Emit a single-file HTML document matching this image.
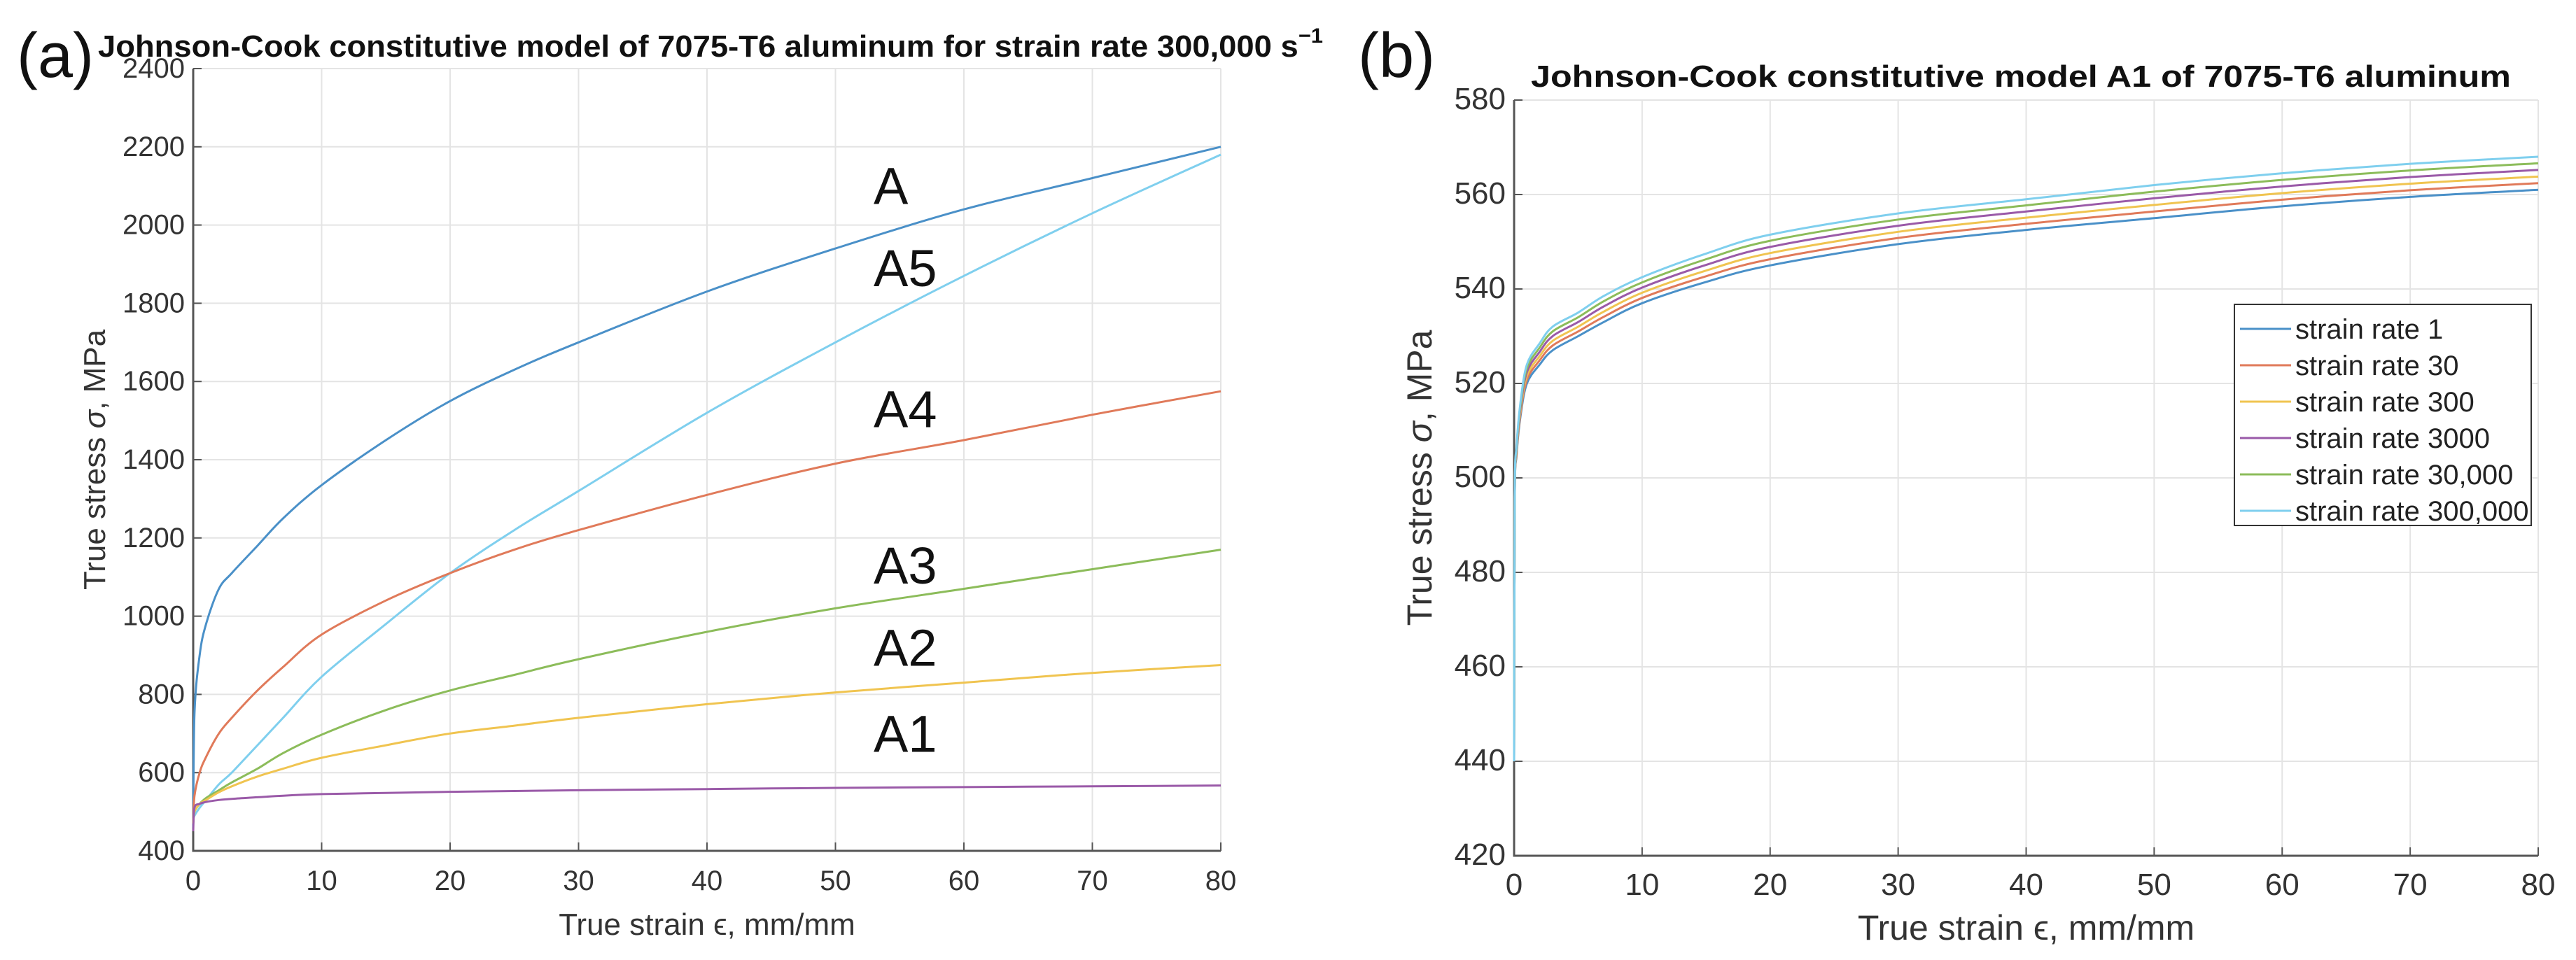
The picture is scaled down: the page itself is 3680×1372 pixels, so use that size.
<!DOCTYPE html>
<html><head><meta charset="utf-8"><style>
html,body{margin:0;padding:0;background:#fff;}
svg{display:block;font-family:"Liberation Sans",sans-serif;}
</style></head><body>
<svg id="fig" width="3680" height="1372" viewBox="0 0 3680 1372">
<text x="24" y="110" font-size="90" fill="#111">(a)</text>
<text x="140" y="81" font-size="44" font-weight="bold" fill="#111" textLength="1750" lengthAdjust="spacingAndGlyphs">Johnson-Cook constitutive model of 7075-T6 aluminum for strain rate 300,000 s<tspan font-size="30" dy="-20">−1</tspan></text>
<text x="1940" y="110" font-size="90" fill="#111">(b)</text>
<text x="2887" y="124" font-size="44" font-weight="bold" fill="#111" text-anchor="middle" textLength="1400" lengthAdjust="spacingAndGlyphs">Johnson-Cook constitutive model A1 of 7075-T6 aluminum</text>
<g id="left"></g>
<g id="right"></g>
</svg>
<script>
// ---- left chart data ----
const leftX = [0,0.1,0.5,1,2,3,5,7,10,15,20,25,30,40,50,60,70,80];
const seriesA  = [460,750,900,980,1070,1110,1180,1250,1335,1450,1550,1630,1700,1830,1940,2040,2120,2200];
const seriesA5 = [480,490,510,530,570,600,670,740,845,980,1110,1220,1320,1520,1700,1870,2030,2180];
const seriesA4 = [470,540,600,640,700,740,810,870,953,1040,1110,1170,1220,1310,1390,1450,1515,1575];
const seriesA3 = [470,500,520,535,555,575,610,650,697,760,810,850,890,960,1020,1070,1120,1170];
const seriesA2 = [470,500,520,530,550,565,590,610,638,670,700,720,740,775,805,830,855,875];
const seriesA1 = [450,510,520,525,530,533,537,541,545,548,551,553,555,558,561,563,565,567];
const leftXTicks = [0,10,20,30,40,50,60,70,80];
const leftYTicks = [400,600,800,1000,1200,1400,1600,1800,2000,2200,2400];
const leftNames = ["A","A5","A4","A3","A2","A1"];
const leftLabelVals = [2100,1890,1530,1130,920,700];
// ---- right chart data ----
const rightX = [0,0.05,0.2,0.5,1,2,3,5,7,10,15,20,30,40,50,60,70,80];
const rate1      = [440,495,505,513,520,524,527,530,533,537,541.5,545,549.5,552.5,555,557.5,559.5,561];
const rate30     = [440,495.2,505.4,513.6,520.8,524.9,528,531,534.1,538.1,542.7,546.3,550.8,553.8,556.4,558.9,560.9,562.4];
const rate300    = [440,495.4,505.8,514.2,521.6,525.8,529,532,535.2,539.2,543.9,547.6,552.1,555.1,557.8,560.3,562.3,563.8];
const rate3000   = [440,495.6,506.2,514.8,522.4,526.7,530,533,536.3,540.3,545.1,548.9,553.4,556.4,559.2,561.7,563.7,565.2];
const rate30000  = [440,495.8,506.6,515.4,523.2,527.6,531,534,537.4,541.4,546.3,550.2,554.7,557.7,560.6,563.1,565.1,566.6];
const rate300000 = [440,496,507,516,524,528.5,532,535,538.5,542.5,547.5,551.5,556,559,562,564.5,566.5,568];
const rightXTicks = [0,10,20,30,40,50,60,70,80];
const rightYTicks = [420,440,460,480,500,520,540,560,580];
const legendLabels = ["strain rate 1","strain rate 30","strain rate 300","strain rate 3000","strain rate 30,000","strain rate 300,000"];

const NS="http://www.w3.org/2000/svg";
const colors=["#4a90c8","#e07a5a","#f0c450","#9a5aa8","#8cbc5a","#7fcfee"];
function mk(parent,tag,attrs){const e=document.createElementNS(NS,tag);for(const k in attrs)e.setAttribute(k,attrs[k]);parent.appendChild(e);return e;}

function drawAxes(g,o){
  const sx=v=>o.x0+(v-o.xmin)/(o.xmax-o.xmin)*(o.x1-o.x0);
  const sy=v=>o.y0-(v-o.ymin)/(o.ymax-o.ymin)*(o.y0-o.y1);
  o.xt.forEach(t=>{
    const l=mk(g,"line",{x1:sx(t),x2:sx(t),y1:o.y1,y2:o.y0,stroke:"#e4e4e4","stroke-width":2});
    
    
    const tk=mk(g,"line",{x1:sx(t),x2:sx(t),y1:o.y0,y2:o.y0-12,stroke:"#555","stroke-width":2});
    
    
    const tx=mk(g,"text",{x:sx(t),y:o.y0+56,"font-size":o.fs,fill:"#333","text-anchor":"middle"});
    tx.textContent=t;
    
    
  });
  o.yt.forEach(t=>{
    const l=mk(g,"line",{x1:o.x0,x2:o.x1,y1:sy(t),y2:sy(t),stroke:"#e4e4e4","stroke-width":2});
    
    
    const tk=mk(g,"line",{x1:o.x0,x2:o.x0+12,y1:sy(t),y2:sy(t),stroke:"#555","stroke-width":2});
    
    
    const tx=mk(g,"text",{x:o.x0-12,y:sy(t)+13,"font-size":o.fs,fill:"#333","text-anchor":"end"});
    tx.textContent=t;
    
    
  });
  const ax=mk(g,"path",{d:`M${o.x0},${o.y1}V${o.y0}H${o.x1}`,fill:"none",stroke:"#555","stroke-width":3});
  
  
  const xl=mk(g,"text",{x:(o.x0+o.x1)/2,y:o.y0+120,"font-size":o.lfs,fill:"#333","text-anchor":"middle"});
  xl.textContent="True strain ϵ, mm/mm";
  
  
  const yl=mk(g,"text",{x:0,y:0,"font-size":o.lfs,fill:"#333","text-anchor":"middle",transform:`translate(${o.ylx},${o.yly}) rotate(-90)`});
  yl.innerHTML='True stress <tspan font-style="italic">σ</tspan>, MPa';
  
  
  return {sx,sy};
}
function line(g,xs,ys,s,color,name){
  const P=xs.map((x,i)=>[s.sx(x),s.sy(ys[i])]);
  let d="M"+P[0][0].toFixed(1)+","+P[0][1].toFixed(1);
  for(let i=0;i<P.length-1;i++){
    const p0=P[Math.max(0,i-1)],p1=P[i],p2=P[i+1],p3=P[Math.min(P.length-1,i+2)];
    const c1=[p1[0]+(p2[0]-p0[0])/6,p1[1]+(p2[1]-p0[1])/6];
    const c2=[p2[0]-(p3[0]-p1[0])/6,p2[1]-(p3[1]-p1[1])/6];
    c1[0]=Math.min(Math.max(c1[0],p1[0]),p2[0]);c2[0]=Math.min(Math.max(c2[0],p1[0]),p2[0]);
    d+="C"+c1.map(v=>v.toFixed(1)).join(",")+" "+c2.map(v=>v.toFixed(1)).join(",")+" "+p2.map(v=>v.toFixed(1)).join(",");
  }
  const p=mk(g,"path",{d:d,fill:"none",stroke:color,"stroke-width":3,"stroke-linejoin":"round"});
  
  
}
// left
const gl=document.getElementById("left");
const sl=drawAxes(gl,{x0:276,x1:1744,y0:1216,y1:98,xmin:0,xmax:80,ymin:400,ymax:2400,xt:leftXTicks,yt:leftYTicks,fs:40,lfs:44,ylx:150,yly:657});
const leftSeries=[seriesA,seriesA5,seriesA4,seriesA3,seriesA2,seriesA1];
const leftColors=[colors[0],colors[5],colors[1],colors[4],colors[2],colors[3]];
leftSeries.forEach((s,i)=>line(gl,leftX,s,sl,leftColors[i],"curve-"+leftNames[i].toLowerCase()));
leftNames.forEach((n,i)=>{
  const t=mk(gl,"text",{x:1248,y:sl.sy(leftLabelVals[i])+26,"font-size":74,fill:"#111"});
  t.textContent=n;
  
  
});
// right
const gr=document.getElementById("right");
const sr=drawAxes(gr,{x0:2163,x1:3626,y0:1223,y1:143,xmin:0,xmax:80,ymin:420,ymax:580,xt:rightXTicks,yt:rightYTicks,fs:44,lfs:50,ylx:2045,yly:683});
const rightSeries=[rate1,rate30,rate300,rate3000,rate30000,rate300000];
rightSeries.forEach((s,i)=>line(gr,rightX,s,sr,colors[i],"curve-rate-"+i));
const lg=mk(gr,"g",{});


mk(lg,"rect",{x:3192,y:435,width:424,height:316,fill:"#fff",stroke:"#333","stroke-width":2});
legendLabels.forEach((lab,i)=>{
  const y=470+i*52;
  const l=mk(lg,"line",{x1:3200,x2:3273,y1:y,y2:y,stroke:colors[i],"stroke-width":3});
  
  
  const t=mk(lg,"text",{x:3279,y:y+14,"font-size":40,fill:"#222"});
  t.textContent=lab;
  
  
});
</script>
</body></html>
